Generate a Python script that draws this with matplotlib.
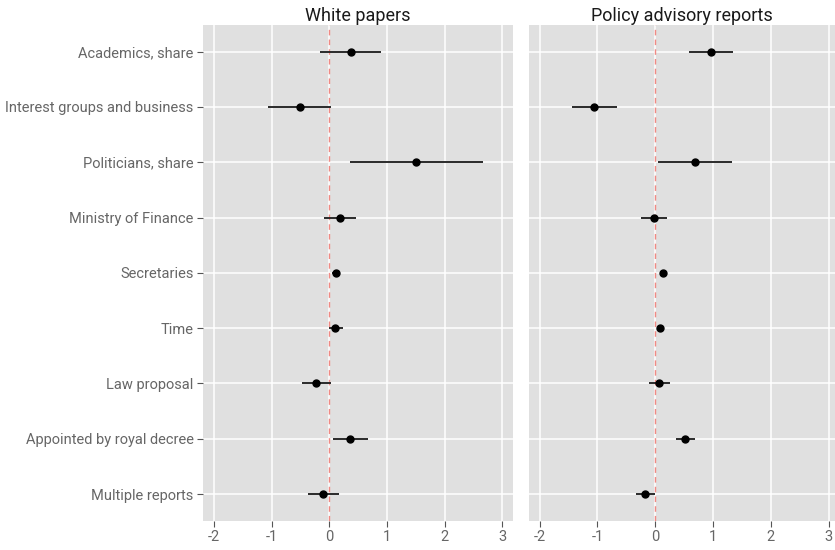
import matplotlib.pyplot as plt

# coefficient estimates with 95% intervals, one row per predictor
variables = [
    "Academics, share",
    "Interest groups and business",
    "Politicians, share",
    "Ministry of Finance",
    "Secretaries",
    "Time",
    "Law proposal",
    "Appointed by royal decree",
    "Multiple reports",
]

wp_est = [0.37, -0.52, 1.51, 0.19, 0.11, 0.10, -0.23, 0.36, -0.12]
wp_lo = [-0.16, -1.06, 0.35, -0.09, 0.05, 0.00, -0.47, 0.06, -0.38]
wp_hi = [0.90, 0.03, 2.67, 0.46, 0.17, 0.23, 0.03, 0.66, 0.16]

par_est = [0.97, -1.06, 0.68, -0.03, 0.13, 0.09, 0.07, 0.52, -0.17]
par_lo = [0.59, -1.44, 0.05, -0.25, 0.08, 0.05, -0.11, 0.36, -0.34]
par_hi = [1.35, -0.67, 1.32, 0.20, 0.18, 0.14, 0.25, 0.69, 0.00]

panels = [
    ("White papers", wp_est, wp_lo, wp_hi),
    ("Policy advisory reports", par_est, par_lo, par_hi),
]

plt.rcParams["font.family"] = ["Roboto", "DejaVu Sans"]
plt.rcParams["axes.unicode_minus"] = False

W, H = 835, 550
fig = plt.figure(figsize=(W / 100, H / 100), dpi=100)
fig.patch.set_facecolor("white")

top, bottom = 25, 520.7
boxes = [(203.3, 512.7, (-2.19, 3.18)), (529.3, 835, (-2.18, 3.11))]

rows = list(range(1, len(variables) + 1))

for i, ((title, est, lo, hi), (x0, x1, xlim)) in enumerate(zip(panels, boxes)):
    ax = fig.add_axes([x0 / W, (H - bottom) / H, (x1 - x0) / W, (bottom - top) / H])
    ax.set_facecolor("#E0E0E0")
    for s in ax.spines.values():
        s.set_visible(False)
    ax.set_axisbelow(True)
    ax.grid(True, color="white", linewidth=1.1)

    ax.axvline(0, color="#F08A84", linestyle=(0, (4, 3)), linewidth=1.0, zorder=2)
    ax.hlines(rows, lo, hi, color="#2a2a2a", linewidth=1.4, zorder=3)
    ax.plot(est, rows, "o", color="black", markersize=5, zorder=4)

    ax.set_xlim(*xlim)
    ax.set_ylim(len(variables) + 0.48, 0.52)
    ax.set_xticks([-2, -1, 0, 1, 2, 3])
    ax.set_yticks(rows)
    ax.tick_params(axis="both", colors="#555555", labelcolor="#666666",
                   labelsize=10.5, length=4, width=0.8, pad=3)
    if i == 0:
        ax.set_yticklabels(variables)
    else:
        ax.set_yticklabels([])
        ax.tick_params(axis="y", length=0)
    ax.set_title(title, fontsize=13, color="#1a1a1a", pad=3)

fig.savefig("out.png", dpi=100)
